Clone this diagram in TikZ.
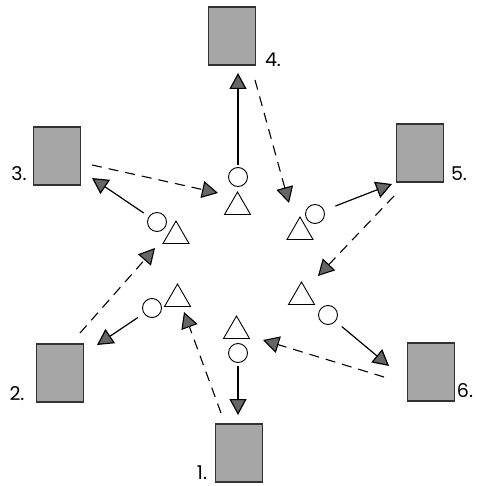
\documentclass[tikz,border=0pt]{standalone}
\usepackage{fontspec}
\setmainfont{Poppins}
\usetikzlibrary{arrows.meta,shapes.geometric}
\begin{document}
\begin{tikzpicture}[x=1pt,y=-1pt,
  box/.style={draw=black!80,fill=black!35,line width=1.2pt,minimum width=47pt,minimum height=58pt,inner sep=0pt},
  circ/.style={circle,draw,line width=0.9pt,minimum size=19pt,inner sep=0pt},
  tri/.style={regular polygon,regular polygon sides=3,draw,line width=0.9pt,minimum size=30pt,inner sep=0pt},
  lbl/.style={font=\fontsize{19}{22}\selectfont,inner sep=0pt},
  head/.style={-{Triangle[length=16pt,width=17pt,fill=black!60]}},
  solidarrow/.style={head,line width=1.2pt},
  dasharrow/.style={head,line width=1.1pt,dash pattern=on 10pt off 7pt}]
\useasboundingbox (0,0) rectangle (478,486);
% boxes
\node[box] (b4) at (232,36) {};
\node[box] (b3) at (57,156) {};
\node[box] (b5) at (420,153) {};
\node[box] (b2) at (60,373) {};
\node[box] (b1) at (239,453) {};
\node[box] (b6) at (431,372) {};
% labels
\node[lbl] (l4) at (273,60) {4.};
\node[lbl] (l3) at (19,174) {3.};
\node[lbl] (l5) at (459,174) {5.};
\node[lbl] (l2) at (17,394) {2.};
\node[lbl] (l1) at (202,473) {1.};
\node[lbl] (l6) at (465,391) {6.};
% circles and triangles
\node[circ] (ct) at (238,177) {};
\node[tri] (tt) at (237.5,207) {};
\node[circ] (cul) at (157,222) {};
\node[tri] (tul) at (176,236) {};
\node[circ] (cur) at (315,214) {};
\node[tri] (tur) at (300,232) {};
\node[circ] (cll) at (152,308) {};
\node[tri] (tll) at (177.5,299) {};
\node[circ] (clr) at (328,315) {};
\node[tri] (tlr) at (301.5,297) {};
\node[circ] (cb) at (238,353) {};
\node[tri] (tb) at (236.5,331) {};
% arrow tips (free ends)
\coordinate (p4) at (238,73);
\coordinate (p3) at (92,178);
\coordinate (p5) at (392,184);
\coordinate (p2) at (97,345);
\coordinate (p6) at (389,366);
\coordinate (p1) at (238,415);
\coordinate (q4) at (289,203);
\coordinate (q3) at (218,193);
\coordinate (q5) at (318,276);
\coordinate (q2) at (155,248);
\coordinate (q1) at (184,312);
\coordinate (q6) at (263,340);
% dashed starts
\coordinate (s4) at (255,80);
\coordinate (s3) at (92,165);
\coordinate (s5) at (394,196);
\coordinate (s2) at (80,333);
\coordinate (s1) at (221,413);
\coordinate (s6) at (384,377);
% solid arrows
\draw[solidarrow,shorten <=2pt] (ct) -- (p4);
\draw[solidarrow,shorten <=6pt] (cul) -- (p3);
\draw[solidarrow,shorten <=12pt] (cur) -- (p5);
\draw[solidarrow,shorten <=7pt] (cll) -- (p2);
\draw[solidarrow,shorten <=8pt] (clr) -- (p6);
\draw[solidarrow,shorten <=3pt] (cb) -- (p1);
% dashed arrows
\draw[dasharrow] (s4) -- (q4);
\draw[dasharrow] (s3) -- (q3);
\draw[dasharrow] (s5) -- (q5);
\draw[dasharrow] (s2) -- (q2);
\draw[dasharrow] (s1) -- (q1);
\draw[dasharrow] (s6) -- (q6);
\end{tikzpicture}
\end{document}
